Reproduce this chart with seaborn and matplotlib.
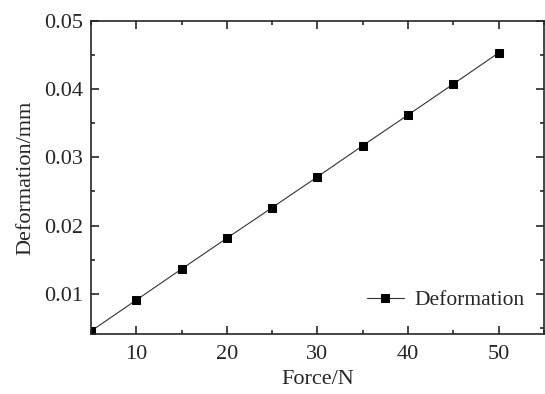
import matplotlib
matplotlib.use("Agg")
import matplotlib.pyplot as plt
import seaborn as sns
import pandas as pd
from matplotlib.ticker import MultipleLocator

force = [5, 10, 15, 20, 25, 30, 35, 40, 45, 50]
deformation = [0.00454, 0.00909, 0.01364, 0.01816, 0.02264, 0.02715, 0.03172, 0.03622, 0.04075, 0.04532]

sns.set_style("ticks")
plt.rcParams['font.family'] = ['Liberation Serif', 'DejaVu Serif']

df = pd.DataFrame({"Force/N": force, "Deformation/mm": deformation})

fig, ax = plt.subplots(figsize=(5.45, 3.94), dpi=100)
sns.lineplot(data=df, x="Force/N", y="Deformation/mm", ax=ax, color="#333333",
             linewidth=0.8, marker="s", markersize=6, markerfacecolor="black",
             markeredgecolor="black", label="Deformation")

ax.set_xlim(5, 55)
ax.set_ylim(0.0041, 0.05)
ax.xaxis.set_minor_locator(MultipleLocator(5))
ax.yaxis.set_minor_locator(MultipleLocator(0.005))
ax.set_xticks([10, 20, 30, 40, 50])
ax.set_yticks([0.01, 0.02, 0.03, 0.04, 0.05])
ax.tick_params(which="both", direction="in", top=True, right=True, labelsize=16, width=1.2)
ax.tick_params(axis="x", which="major", pad=8)
ax.tick_params(axis="y", which="major", pad=6)
ax.tick_params(which="major", length=6)
ax.tick_params(which="minor", length=3)
ax.set_xlabel("Force/N", fontsize=16, labelpad=4)
ax.set_ylabel("Deformation/mm", fontsize=16, labelpad=6)
for s in ax.spines.values():
    s.set_linewidth(1.2)
ax.legend(loc="lower right", frameon=False, fontsize=15.5, handlelength=1.7,
          handletextpad=0.5, bbox_to_anchor=(1.0, 0.015))

fig.subplots_adjust(left=0.167, right=0.998, top=0.947, bottom=0.152)
fig.savefig("out.png", dpi=100)
